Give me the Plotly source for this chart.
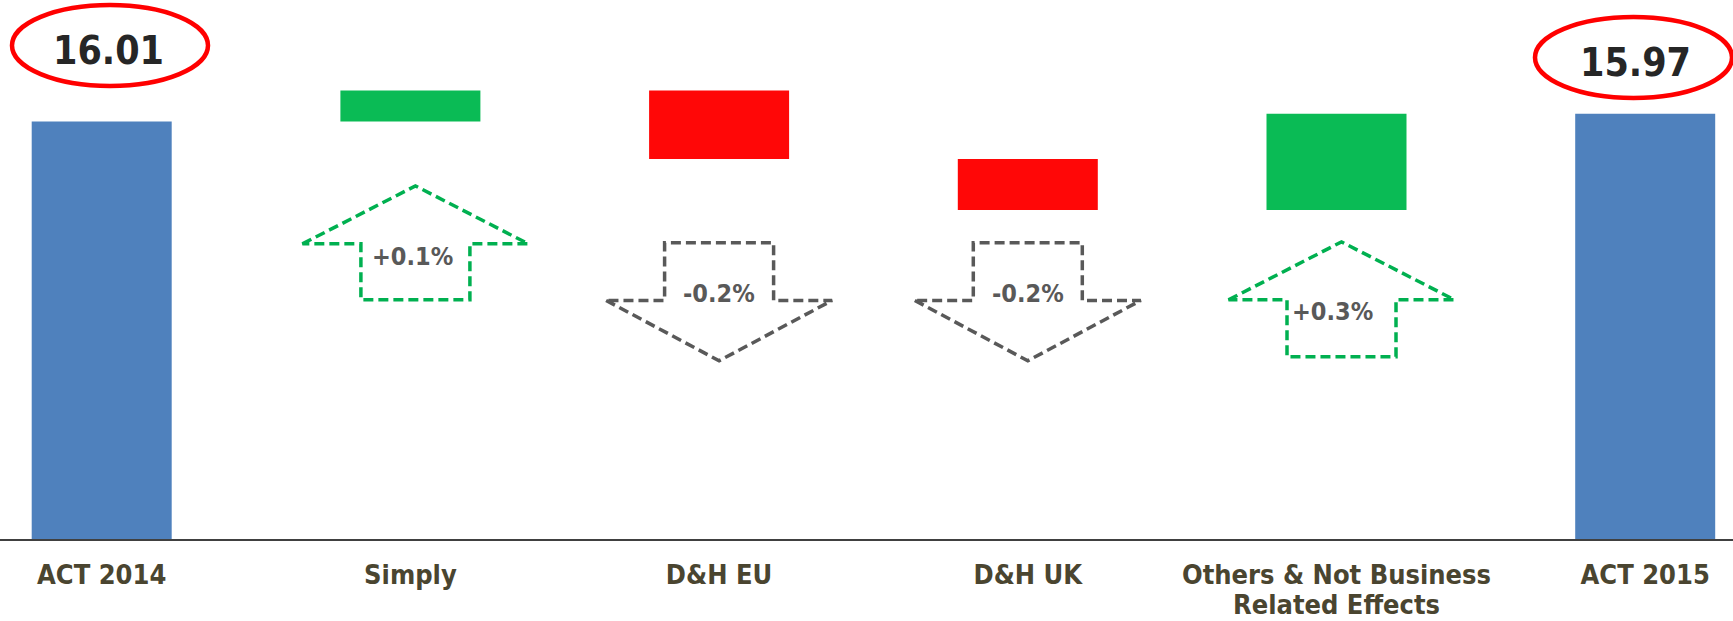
import plotly.graph_objects as go

# ---------------- data ----------------
categories = ["ACT 2014", "Simply", "D&H EU", "D&H UK",
              "Others & Not Business<br>Related Effects", "ACT 2015"]
measures = ["absolute", "relative", "relative", "relative", "relative", "total"]
values = [16.01, 1.19, -2.63, -1.95, 3.69, 0]
total_labels = ["16.01", "15.97"]
change_labels = ["+0.1%", "-0.2%", "-0.2%", "+0.3%"]

# ---------------- layout helpers (pixel geometry of the picture) ----------------
W, H = 1733, 621
X0_PX, STEP_PX = 101.7, 308.7      # centre of first category, category spacing
BASE_PX, UNIT_PX = 539.3, 26.09    # axis line, pixels per value unit


def xu(px):
    return (px - X0_PX) / STEP_PX


def yu(px):
    return (BASE_PX - px) / UNIT_PX


FONT = "Tahoma, 'DejaVu Sans Condensed', 'Noto Sans', sans-serif"
GREEN, RED, BLUE = "#0ABB55", "#FF0707", "#4F81BD"
LABEL_COLOR = "#4A4530"

x = list(range(len(categories)))

fig = go.Figure()
fig.add_trace(go.Waterfall(
    x=x, y=values, measure=measures,
    width=0.4535,
    increasing=dict(marker=dict(color=GREEN, line=dict(width=0))),
    decreasing=dict(marker=dict(color=RED, line=dict(width=0))),
    totals=dict(marker=dict(color=BLUE, line=dict(width=0))),
    connector=dict(visible=False),
    textinfo="none", hoverinfo="skip", showlegend=False,
))

shapes, annotations = [], []

# value ellipses for the total bars
ell_px = [(12, 5, 208, 86), (1535, 17, 1732, 98)]
txt_px = [(108.5, 51), (1635, 62.5)]
for (ex0, ey0, ex1, ey1), (tx, ty), lab in zip(ell_px, txt_px, total_labels):
    shapes.append(dict(type="circle", xref="x", yref="y",
                       x0=xu(ex0), x1=xu(ex1), y0=yu(ey1), y1=yu(ey0),
                       line=dict(color="#FF0000", width=4.5), fillcolor="rgba(0,0,0,0)"))
    annotations.append(dict(x=xu(tx), y=yu(ty), xref="x", yref="y", text=f"<b>{lab}</b>",
                            showarrow=False, xanchor="center", yanchor="middle",
                            font=dict(family=FONT, size=39, color="#262626")))

# dashed arrows under the change bars: (tip, base, shaft end) in px
arrow_geom = {1: (186, 244, 300), 2: (361, 300.6, 243), 3: (361, 300.6, 243), 4: (242, 300, 357)}
text_off = {1: (-3, 13), 2: (0, -6.5), 3: (0, -6.5), 4: (-9, 12)}
HEAD_HALF, SHAFT_HALF = 113, 54.5

for k, (i, (tip, base, end)) in enumerate(arrow_geom.items()):
    cx = X0_PX + STEP_PX * i + (5 if values[i] > 0 else 0)
    pts = [(cx - HEAD_HALF, base), (cx, tip), (cx + HEAD_HALF, base),
           (cx + SHAFT_HALF, base), (cx + SHAFT_HALF, end),
           (cx - SHAFT_HALF, end), (cx - SHAFT_HALF, base)]
    path = "M " + " L ".join(f"{xu(px):.5f},{yu(py):.5f}" for px, py in pts) + " Z"
    col = "#00B050" if values[i] > 0 else "#595959"
    shapes.append(dict(type="path", xref="x", yref="y", path=path,
                       line=dict(color=col, width=3.5, dash="10px,5px"),
                       fillcolor="rgba(0,0,0,0)"))
    dx, dy = text_off[i]
    annotations.append(dict(x=xu(cx + dx), y=yu(base + dy), xref="x", yref="y",
                            text=f"<b>{change_labels[k]}</b>", showarrow=False,
                            xanchor="center", yanchor="middle",
                            font=dict(family=FONT, size=25, color="#595959")))

# category labels: first line as tick labels, extra lines as annotations (tighter line spacing)
tick_text, extra_lines = [], {}
for i, c in enumerate(categories):
    parts = c.split("<br>")
    tick_text.append(f"<b>{parts[0]}</b>")
    if len(parts) > 1:
        extra_lines[i] = parts[1:]

PLOT_H = BASE_PX
for i, lines in extra_lines.items():
    for j, line in enumerate(lines):
        y_px = 605 + 31 * j
        annotations.append(dict(x=i, y=-(y_px - BASE_PX) / PLOT_H, xref="x", yref="paper",
                                text=f"<b>{line}</b>", showarrow=False,
                                xanchor="center", yanchor="middle",
                                font=dict(family=FONT, size=27, color=LABEL_COLOR)))

fig.update_layout(
    width=W, height=H,
    margin=dict(l=0, r=0, t=0, b=H - BASE_PX, autoexpand=False),
    paper_bgcolor="white", plot_bgcolor="white",
    shapes=shapes, annotations=annotations,
    xaxis=dict(range=[xu(0), xu(W)], tickmode="array", tickvals=x,
               ticktext=tick_text,
               showgrid=False, zeroline=False, showline=True, automargin=False,
               linecolor="#404040", linewidth=2, ticks="",
               ticklabelstandoff=11,
               tickfont=dict(family=FONT, size=27, color=LABEL_COLOR)),
    yaxis=dict(range=[0, yu(0)], visible=False, showgrid=False, zeroline=False,
               automargin=False),
)

fig.write_html("out.html")
